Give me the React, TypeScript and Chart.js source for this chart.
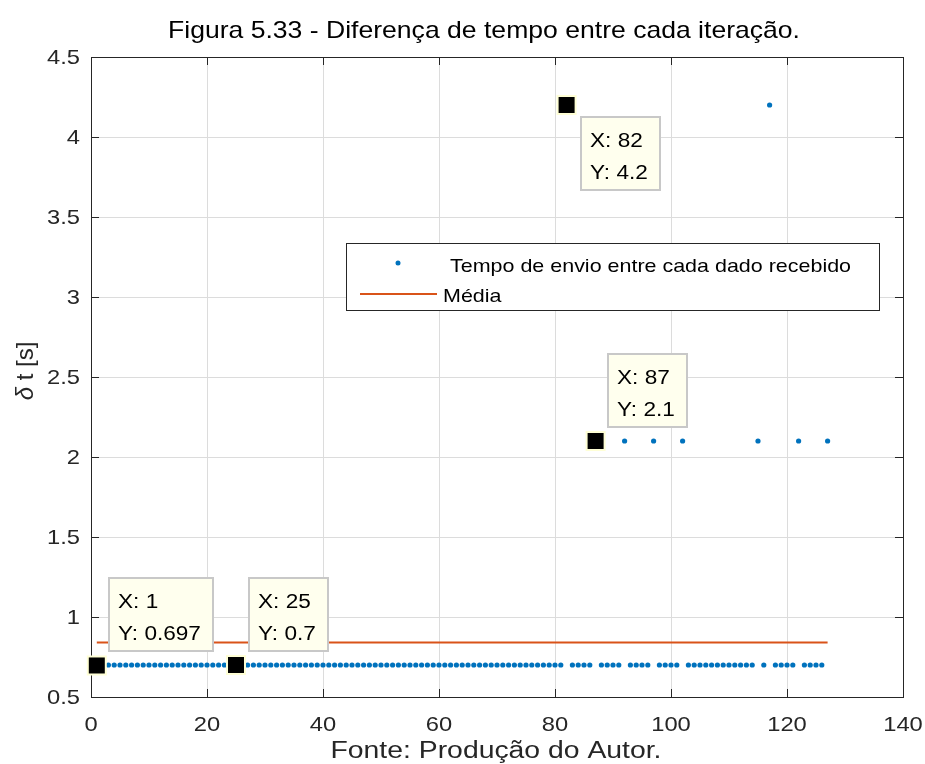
import React, { useEffect, useRef } from 'react';
import { Chart, registerables } from 'chart.js';

Chart.register(...registerables);

// ---------------- data ----------------
const iteration = [
  1, 2, 3, 4, 5, 6, 7, 8, 9, 10,
  11, 12, 13, 14, 15, 16, 17, 18, 19, 20,
  21, 22, 23, 24, 25, 26, 27, 28, 29, 30,
  31, 32, 33, 34, 35, 36, 37, 38, 39, 40,
  41, 42, 43, 44, 45, 46, 47, 48, 49, 50,
  51, 52, 53, 54, 55, 56, 57, 58, 59, 60,
  61, 62, 63, 64, 65, 66, 67, 68, 69, 70,
  71, 72, 73, 74, 75, 76, 77, 78, 79, 80,
  81, 82, 83, 84, 85, 86, 87, 88, 89, 90,
  91, 92, 93, 94, 95, 96, 97, 98, 99, 100,
  101, 102, 103, 104, 105, 106, 107, 108, 109, 110,
  111, 112, 113, 114, 115, 116, 117, 118, 119, 120,
  121, 122, 123, 124, 125, 126, 127,
];

const deltaT = [
  0.697, 0.7, 0.7, 0.7, 0.7, 0.7, 0.7, 0.7, 0.7, 0.7,
  0.7, 0.7, 0.7, 0.7, 0.7, 0.7, 0.7, 0.7, 0.7, 0.7,
  0.7, 0.7, 0.7, 0.7, 0.7, 0.7, 0.7, 0.7, 0.7, 0.7,
  0.7, 0.7, 0.7, 0.7, 0.7, 0.7, 0.7, 0.7, 0.7, 0.7,
  0.7, 0.7, 0.7, 0.7, 0.7, 0.7, 0.7, 0.7, 0.7, 0.7,
  0.7, 0.7, 0.7, 0.7, 0.7, 0.7, 0.7, 0.7, 0.7, 0.7,
  0.7, 0.7, 0.7, 0.7, 0.7, 0.7, 0.7, 0.7, 0.7, 0.7,
  0.7, 0.7, 0.7, 0.7, 0.7, 0.7, 0.7, 0.7, 0.7, 0.7,
  0.7, 4.2, 0.7, 0.7, 0.7, 0.7, 2.1, 0.7, 0.7, 0.7,
  0.7, 2.1, 0.7, 0.7, 0.7, 0.7, 2.1, 0.7, 0.7, 0.7,
  0.7, 2.1, 0.7, 0.7, 0.7, 0.7, 0.7, 0.7, 0.7, 0.7,
  0.7, 0.7, 0.7, 0.7, 2.1, 0.7, 4.2, 0.7, 0.7, 0.7,
  0.7, 2.1, 0.7, 0.7, 0.7, 0.7, 2.1,
];

const mediaValue = 0.84;
const mediaRange = [1, 127];

const xTicks = [0, 20, 40, 60, 80, 100, 120, 140];
const yTicks = [0.5, 1, 1.5, 2, 2.5, 3, 3.5, 4, 4.5];

const datatipX = [1, 25, 82, 87];

const titleText = 'Figura 5.33 - Diferença de tempo entre cada iteração.';
const xTitleText = 'Fonte: Produção do Autor.';
const yTitleSymbol = 'δ';
const yTitleRest = ' t [s]';
const seriesLabels = ['Tempo de envio entre cada dado recebido', 'Média'];

// ---------------- styles ----------------
const FONT = '"Liberation Sans", Arial, Helvetica, sans-serif';
const SX = 1.13;
const AXIS_COLOR = '#262626';
const BLUE = '#0072BD';
const ORANGE = '#D95319';

function drawText(
  ctx: CanvasRenderingContext2D,
  s: string,
  x: number,
  y: number,
  size: number,
  align: CanvasTextAlign,
  baseline: CanvasTextBaseline,
  color = AXIS_COLOR,
  sx = SX,
) {
  ctx.save();
  ctx.translate(x, y);
  ctx.scale(sx, 1);
  ctx.font = `${size}px ${FONT}`;
  ctx.textAlign = align;
  ctx.textBaseline = baseline;
  ctx.fillStyle = color;
  ctx.fillText(s, 0, 0);
  ctx.restore();
}

function drawFit(
  ctx: CanvasRenderingContext2D,
  s: string,
  cx: number,
  y: number,
  size: number,
  width: number,
  color = AXIS_COLOR,
) {
  ctx.save();
  ctx.font = `${size}px ${FONT}`;
  const w = ctx.measureText(s).width;
  ctx.restore();
  drawText(ctx, s, cx, y, size, 'center', 'alphabetic', color, width / w);
}

const decorPlugin = {
  id: 'matlabDecor',
  afterDraw(chart: any) {
    const ctx: CanvasRenderingContext2D = chart.ctx;
    const { left, right, top, bottom } = chart.chartArea;
    const xs = chart.scales.x;
    const ys = chart.scales.y;

    // axes box
    ctx.save();
    ctx.strokeStyle = AXIS_COLOR;
    ctx.lineWidth = 1;
    ctx.strokeRect(Math.round(left) + 0.5, Math.round(top) + 0.5, Math.round(right - left), Math.round(bottom - top));

    // inward ticks
    const tl = 8;
    ctx.beginPath();
    xTicks.forEach((v) => {
      const px = Math.round(xs.getPixelForValue(v)) + 0.5;
      ctx.moveTo(px, bottom);
      ctx.lineTo(px, bottom - tl);
      ctx.moveTo(px, top);
      ctx.lineTo(px, top + tl);
    });
    yTicks.forEach((v) => {
      const py = Math.round(ys.getPixelForValue(v)) + 0.5;
      ctx.moveTo(left, py);
      ctx.lineTo(left + tl, py);
      ctx.moveTo(right, py);
      ctx.lineTo(right - tl, py);
    });
    ctx.stroke();
    ctx.restore();

    // tick labels
    xTicks.forEach((v) => {
      drawText(ctx, String(v), xs.getPixelForValue(v), bottom + 34, 21, 'center', 'alphabetic');
    });
    yTicks.forEach((v) => {
      drawText(ctx, String(v), left - 11, ys.getPixelForValue(v) + 1, 21, 'right', 'middle');
    });

    // title & axis titles
    drawFit(ctx, titleText, 484, 38, 24, 632, '#000000');
    drawFit(ctx, xTitleText, 496, 758, 23, 331, '#262626');

    ctx.save();
    ctx.translate(33, 371);
    ctx.rotate(-Math.PI / 2);
    ctx.fillStyle = AXIS_COLOR;
    ctx.textBaseline = 'alphabetic';
    ctx.textAlign = 'left';
    const ys2 = 24;
    ctx.font = `italic ${ys2}px ${FONT}`;
    const w1 = ctx.measureText(yTitleSymbol).width;
    ctx.font = `${ys2}px ${FONT}`;
    const w2 = ctx.measureText(yTitleRest).width;
    const start = -(w1 + w2) / 2;
    ctx.font = `italic ${ys2}px ${FONT}`;
    ctx.fillText(yTitleSymbol, start, 0);
    ctx.font = `${ys2}px ${FONT}`;
    ctx.fillText(yTitleRest, start + w1, 0);
    ctx.restore();

    // legend
    ctx.save();
    ctx.fillStyle = '#ffffff';
    ctx.fillRect(346.5, 243.5, 533, 67);
    ctx.strokeStyle = AXIS_COLOR;
    ctx.lineWidth = 1;
    ctx.strokeRect(346.5, 243.5, 533, 67);
    ctx.fillStyle = BLUE;
    ctx.beginPath();
    ctx.arc(398, 263, 2.5, 0, Math.PI * 2);
    ctx.fill();
    ctx.strokeStyle = ORANGE;
    ctx.lineWidth = 2;
    ctx.beginPath();
    ctx.moveTo(360, 294);
    ctx.lineTo(437, 294);
    ctx.stroke();
    ctx.restore();
    drawText(ctx, seriesLabels[0], 450, 272, 19, 'left', 'alphabetic', '#000000');
    drawText(ctx, seriesLabels[1], 443, 302, 19, 'left', 'alphabetic', '#000000');

    // datatips
    const placement = ['above', 'above', 'below', 'above'];
    const dx = [12, 13, 14, 12];
    datatipX.forEach((xv, k) => {
      const i = iteration.indexOf(xv);
      const yv = deltaT[i];
      const px = xs.getPixelForValue(xv);
      const py = ys.getPixelForValue(yv);
      // marker
      ctx.save();
      ctx.fillStyle = '#FFFFD6';
      ctx.fillRect(px - 10, py - 10, 20, 20);
      ctx.fillStyle = '#000000';
      ctx.fillRect(px - 8, py - 8, 16, 16);
      ctx.restore();

      const l1 = `X: ${xv}`;
      const l2 = `Y: ${yv}`;
      ctx.save();
      ctx.font = `20px ${FONT}`;
      const tw = Math.max(ctx.measureText(l1).width, ctx.measureText(l2).width) * SX;
      ctx.restore();
      const bw = Math.round(tw + 21);
      const bh = 73;
      const bx = Math.round(px + dx[k]);
      const by = placement[k] === 'above' ? Math.round(py - 14 - bh) : Math.round(py + 12);
      ctx.save();
      ctx.fillStyle = '#FFFFEE';
      ctx.fillRect(bx, by, bw, bh);
      ctx.strokeStyle = '#C8C8C8';
      ctx.lineWidth = 2;
      ctx.strokeRect(bx, by, bw, bh);
      ctx.restore();
      drawText(ctx, l1, bx + 9, by + 30, 20, 'left', 'alphabetic', '#000000');
      drawText(ctx, l2, bx + 9, by + 62, 20, 'left', 'alphabetic', '#000000');
    });
  },
};

export default function App() {
  const ref = useRef<HTMLCanvasElement>(null);

  useEffect(() => {
    document.body.style.margin = '0';
    const canvas = ref.current;
    if (!canvas) return;
    const chart = new Chart(canvas, {
      type: 'scatter',
      data: {
        datasets: [
          {
            label: seriesLabels[1],
            type: 'line',
            data: [
              { x: mediaRange[0], y: mediaValue },
              { x: mediaRange[1], y: mediaValue },
            ],
            borderColor: ORANGE,
            backgroundColor: ORANGE,
            borderWidth: 2,
            pointRadius: 0,
            showLine: true,
            fill: false,
          } as any,
          {
            label: seriesLabels[0],
            data: iteration.map((x, i) => ({ x, y: deltaT[i] })),
            backgroundColor: BLUE,
            borderColor: BLUE,
            borderWidth: 0,
            pointRadius: 2.6,
            pointHoverRadius: 2.6,
            showLine: false,
          },
        ],
      },
      options: {
        animation: false,
        responsive: false,
        devicePixelRatio: 1,
        events: [],
        layout: { padding: { top: 57, right: 22, left: 0, bottom: 0 } },
        plugins: {
          legend: { display: false },
          title: { display: false },
          tooltip: { enabled: false },
        },
        scales: {
          x: {
            type: 'linear',
            min: 0,
            max: 140,
            afterBuildTicks: (s: any) => {
              s.ticks = xTicks.map((v) => ({ value: v }));
            },
            afterFit: (s: any) => {
              s.height = 67;
            },
            ticks: { display: false },
            grid: { color: '#DCDCDC', lineWidth: 1, drawTicks: false },
            border: { display: false },
          },
          y: {
            type: 'linear',
            min: 0.5,
            max: 4.5,
            afterBuildTicks: (s: any) => {
              s.ticks = yTicks.map((v) => ({ value: v }));
            },
            afterFit: (s: any) => {
              s.width = 91;
            },
            ticks: { display: false },
            grid: { color: '#DCDCDC', lineWidth: 1, drawTicks: false },
            border: { display: false },
          },
        },
      },
      plugins: [decorPlugin],
    });
    return () => chart.destroy();
  }, []);

  return (
    <div style={{ width: 925, height: 764, background: '#ffffff' }}>
      <canvas ref={ref} width={925} height={764} style={{ display: 'block' }} />
    </div>
  );
}
